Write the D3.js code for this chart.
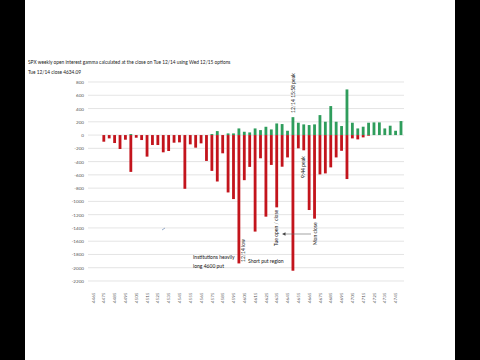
<!DOCTYPE html>
<html><head><meta charset="utf-8">
<script src="https://cdn.jsdelivr.net/npm/d3@7/dist/d3.min.js"></script>
<style>html,body{margin:0;padding:0;background:#000;}svg{display:block}</style>
</head><body>
<svg id="c" width="480" height="360"></svg>
<script>
const strikes = ["4465","4470","4475","4480","4485","4490","4495","4500","4505","4510",
"4515","4520","4525","4530","4535","4540","4545","4550","4555","4560",
"4565","4570","4575","4580","4585","4590","4595","4600","4605","4610",
"4615","4620","4625","4630","4635","4640","4645","4650","4655","4660",
"4665","4670","4675","4680","4685","4690","4695","4700","4705","4710",
"4715","4720","4725","4730","4735","4740","4745","4750"];
const positiveGamma = [0,0,0,0,0,0,0,15,0,0,
0,0,0,0,0,0,0,0,0,0,
0,0,15,60,0,25,25,100,50,40,
100,75,125,85,175,166,65,270,186,161,
151,161,301,201,437,201,136,688,186,100,
126,186,191,191,100,141,65,211];
const negativeGamma = [0,0,-100,-50,-120,-210,-70,-555,-40,-75,
-325,-150,-150,-260,-240,-115,-110,-810,-140,-190,
-125,-390,-540,-700,-275,-865,-965,-1935,-680,-480,
-1455,-350,-1230,-450,-1090,-477,-337,-2045,-200,-230,
-1130,-1260,-593,-578,-487,-337,-237,-663,-50,-65,
-35,-10,0,0,0,0,0,0];
const yTicks = [800,600,400,200,0,-200,-400,-600,-800,-1000,-1200,-1400,-1600,-1800,-2000,-2200];
const titleLines = ["SPX weekly open interest gamma calculated at the close on Tue 12/14 using Wed 12/15 options",
"Tue 12/14 close 4634.09"];

const svg = d3.select("#c");
const FONT = "Lato, 'Open Sans', sans-serif";
svg.append("rect").attr("x",25).attr("y",0).attr("width",430).attr("height",360).attr("fill","#fff");

const x = d3.scaleBand().domain(strikes).range([90.3, 403.7]).paddingInner(0.48).paddingOuter(0.24);
const y = d3.scaleLinear().domain([-2200, 800]).range([281, 82]);

// gridlines
svg.append("g").selectAll("line").data(yTicks).join("line")
  .attr("x1", 88).attr("x2", 404)
  .attr("y1", d => y(d)).attr("y2", d => y(d))
  .attr("stroke", "#d9d9d9").attr("stroke-width", 0.7);

// y axis labels
const yAxis = d3.axisLeft(y).tickValues(yTicks).tickSize(0).tickPadding(0).tickFormat(d => String(d));
const gy = svg.append("g").attr("transform","translate(84,0)").call(yAxis);
gy.select(".domain").remove();
gy.selectAll("text").attr("font-family", FONT).attr("font-size", 4.6).attr("fill", "#595959");

// x axis labels (every other category)
const xAxis = d3.axisBottom(x).tickValues(strikes.filter((d,i)=>i%2===0)).tickSize(0).tickPadding(0);
const gx = svg.append("g").attr("transform","translate(0,284)").call(xAxis);
gx.select(".domain").remove();
gx.selectAll("text").attr("font-family", FONT).attr("font-size", 4.6).attr("fill", "#595959")
  .attr("transform","rotate(-90)").attr("text-anchor","end").attr("dx", -8.5).attr("dy", "0.35em").attr("y", 0);

// bars
svg.append("g").selectAll("rect").data(strikes).join("rect")
  .attr("x", d => x(d)).attr("width", x.bandwidth())
  .attr("y", (d,i) => y(positiveGamma[i])).attr("height", (d,i) => y(0) - y(positiveGamma[i]))
  .attr("fill", "#2f9d5c");
svg.append("g").selectAll("rect").data(strikes).join("rect")
  .attr("x", d => x(d)).attr("width", x.bandwidth())
  .attr("y", y(0)).attr("height", (d,i) => y(negativeGamma[i]) - y(0))
  .attr("fill", "#c3141c");

// title
svg.append("g").selectAll("text").data(titleLines).join("text")
  .attr("x", 28).attr("y", (d,i) => 64 + i*10)
  .attr("font-family", FONT).attr("font-size", 4.8).attr("fill", "#222").text(d => d);

// annotations
const ann = svg.append("g").attr("font-family", FONT).attr("font-size", 5).attr("fill", "#111");
function vtext(xc, yBottom, t){
  ann.append("text").attr("transform", `translate(${xc},${yBottom}) rotate(-90)`)
    .attr("dy","0.35em").text(t);
}
vtext(x("4650")+x.bandwidth()/2, 113, "12/14 15:58 peak");
vtext(x("4660")+x.bandwidth()/2, 178, "9:44 peak");
vtext(x("4600")+x.bandwidth()/2+4, 262, "12/14 low");
vtext(x("4635")+x.bandwidth()/2, 246, "Tue open / close");
vtext(x("4670")+x.bandwidth()/2+1, 245, "Mon close");
ann.append("text").attr("x",193).attr("y",259).text("Institutions heavily");
ann.append("text").attr("x",193).attr("y",268).text("long 4600 put");
ann.append("text").attr("x",248).attr("y",263).text("Short put region");
// arrow
svg.append("line").attr("x1",284).attr("x2",311).attr("y1",234).attr("y2",234).attr("stroke","#666").attr("stroke-width",0.6);
svg.append("path").attr("d","M282,234 L285.5,232.3 L285.5,235.7 Z").attr("fill","#444");
svg.append("path").attr("d","M162,230 L165,228").attr("stroke","#5577aa").attr("stroke-width",0.6);
</script>
</body></html>
